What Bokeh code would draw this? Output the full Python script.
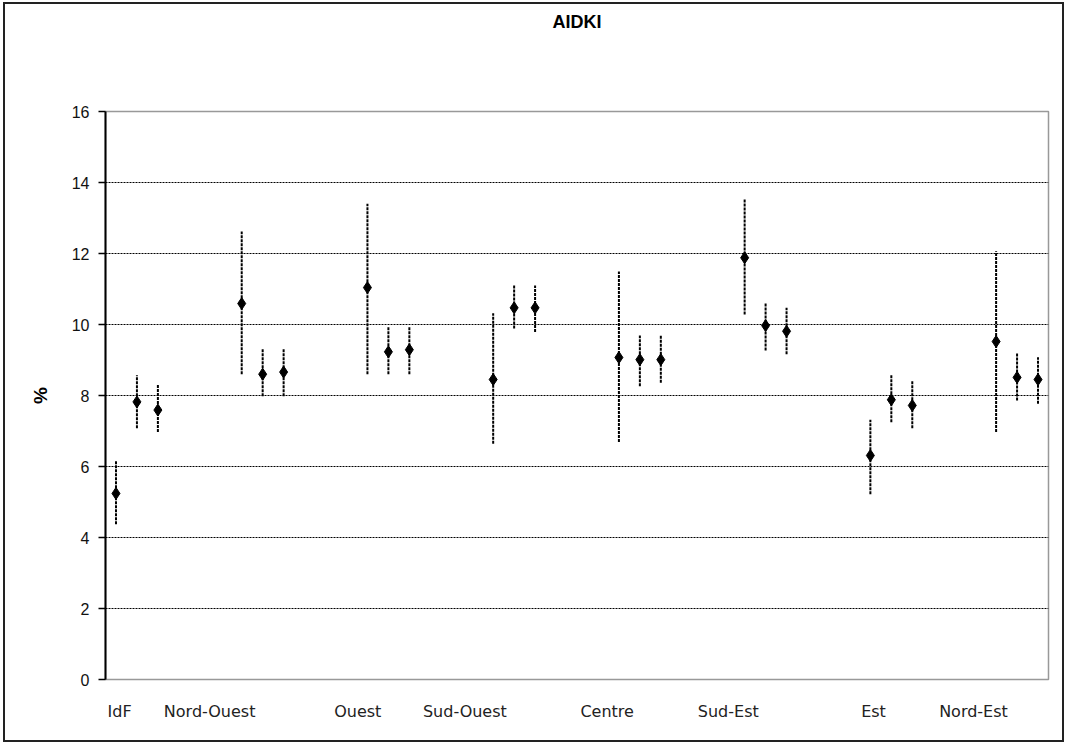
from bokeh.plotting import figure
from bokeh.layouts import column
from bokeh.models import FixedTicker, Range1d, Title
from bokeh.embed import file_html
from bokeh.resources import INLINE

# ---- data ----
regions = ["IdF", "Nord-Ouest", "Ouest", "Sud-Ouest", "Centre", "Sud-Est", "Est", "Nord-Est"]
estimate = [5.24, 7.82, 7.59,
            10.59, 8.60, 8.66,
            11.04, 9.23, 9.29,
            8.45, 10.47, 10.47,
            9.07, 9.01, 9.01,
            11.88, 9.97, 9.81,
            6.31, 7.88, 7.72,
            9.52, 8.51, 8.45]
lower = [4.37, 7.08, 6.97,
         8.60, 7.98, 7.98,
         8.60, 8.60, 8.60,
         6.64, 9.89, 9.79,
         6.69, 8.26, 8.36,
         10.28, 9.27, 9.16,
         5.22, 7.25, 7.08,
         6.97, 7.86, 7.77]
upper = [6.15, 8.57, 8.30,
         12.62, 9.31, 9.31,
         13.40, 9.93, 9.93,
         10.32, 11.10, 11.10,
         11.49, 9.69, 9.69,
         13.54, 10.60, 10.47,
         7.32, 8.57, 8.40,
         12.06, 9.18, 9.08]
y_ticks = [0, 2, 4, 6, 8, 10, 12, 14, 16]
chart_title = "AIDKI"

# ---- layout of category slots ----
n_per = 3
group_step = 6
xs = [g * group_step + k for g in range(len(regions)) for k in range(n_per)]
label_pos = [0.17, 4.47, 11.54, 16.65, 23.44, 29.22, 36.15, 40.92]

p = figure(width=1057, height=736, output_backend="svg", toolbar_location=None,
           x_range=Range1d(-0.5, 44.5), y_range=Range1d(0, 16),
           min_border_left=100, min_border_right=14, min_border_top=107,
           min_border_bottom=61)
p.background_fill_color = "white"
p.border_fill_color = "white"
p.outline_line_color = "#999999"
p.outline_line_width = 1.5

# real title on top, empty spacer title between it and the frame
p.title.text = chart_title
p.title.align = "center"
p.title.offset = -42
p.title.standoff = 7
p.title.text_font = "Liberation Sans"
p.title.text_font_style = "bold"
p.title.text_font_size = "18px"
p.title.text_color = "black"
p.add_layout(Title(text=" ", text_font_size="10px", standoff=63), "above")

# grid
p.xgrid.visible = False
p.ygrid.ticker = FixedTicker(ticks=y_ticks[:-1])
p.ygrid.grid_line_color = "black"
p.ygrid.grid_line_dash = "2 1"
p.ygrid.grid_line_width = 1

# y axis
p.yaxis.ticker = FixedTicker(ticks=y_ticks)
p.yaxis.axis_line_color = "black"
p.yaxis.axis_line_width = 2
p.yaxis.major_tick_out = 7
p.yaxis.major_tick_in = 0
p.yaxis.major_tick_line_width = 1.5
p.yaxis.minor_tick_line_color = None
p.yaxis.major_label_text_font = "Liberation Sans"
p.yaxis.major_label_text_font_size = "16px"
p.yaxis.major_label_text_color = "#111111"
p.yaxis.major_label_standoff = 9
p.yaxis.axis_label = "%"
p.yaxis.axis_label_text_font = "Liberation Sans"
p.yaxis.axis_label_text_font_style = "bold"
p.yaxis.axis_label_text_font_size = "19px"
p.yaxis.axis_label_text_color = "black"
p.yaxis.axis_label_standoff = 18

# x axis
p.xaxis.ticker = FixedTicker(ticks=label_pos)
p.xaxis.major_label_overrides = {float(pos): name for pos, name in zip(label_pos, regions)}
p.xaxis.axis_line_color = None
p.xaxis.major_tick_line_color = None
p.xaxis.minor_tick_line_color = None
p.xaxis.major_tick_out = 0
p.xaxis.major_tick_in = 0
p.xaxis.major_label_text_font = "DejaVu Sans"
p.xaxis.major_label_text_font_size = "16px"
p.xaxis.major_label_text_color = "#222222"
p.xaxis.major_label_standoff = 22

# error bars and points
p.segment(x0=xs, y0=lower, x1=xs, y1=upper, line_color="black",
          line_width=2, line_dash="3 1")
p.scatter(x=xs, y=estimate, marker="diamond", size=12,
          fill_color="black", line_color="black", line_width=1)

# outer chart border
layout = column(p, styles={"border": "2px solid #222222",
                           "margin-left": "3px", "margin-top": "2px"})

open("out.html", "w").write(file_html(layout, INLINE))
